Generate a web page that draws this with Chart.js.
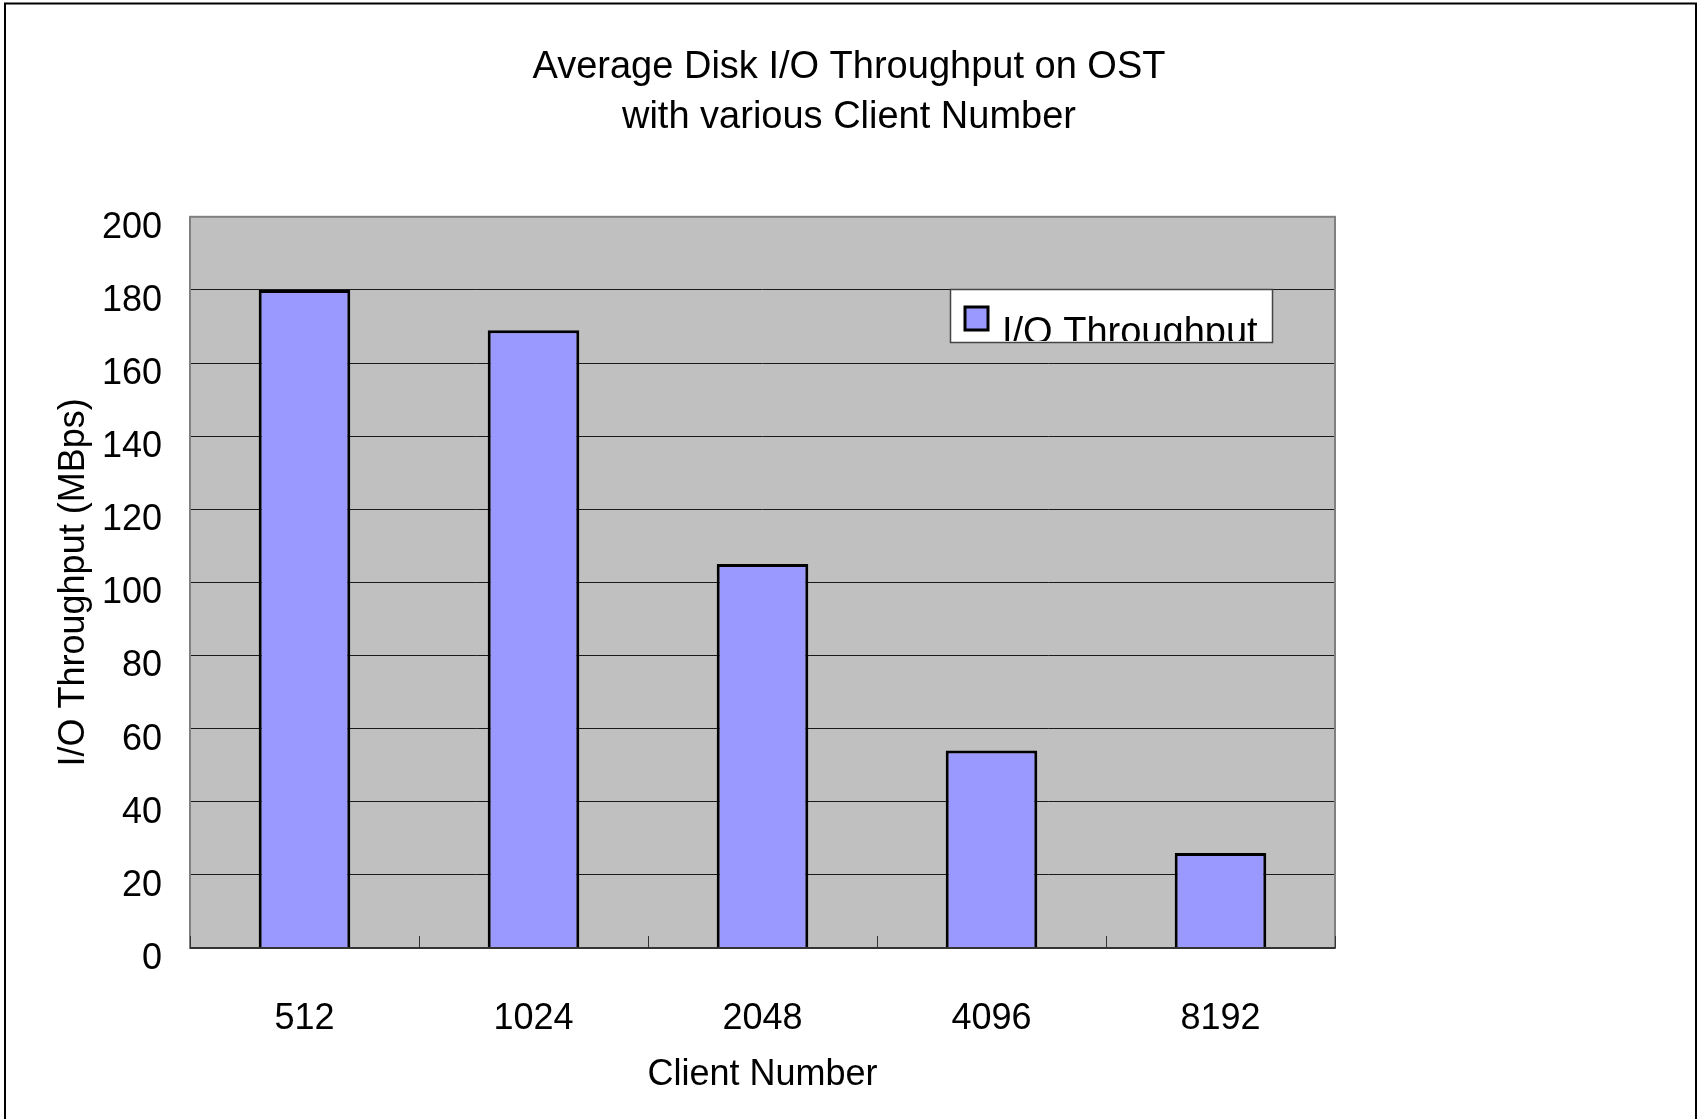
<!DOCTYPE html>
<html>
<head>
<meta charset="utf-8">
<script src="https://cdn.jsdelivr.net/npm/chart.js@4.4.0/dist/chart.umd.min.js"></script>
<style>
  html, body { margin: 0; padding: 0; background: #fff; }
</style>
</head>
<body>
<canvas id="chart_io" width="1698" height="1119"></canvas>
<script>
let clientNumbers = ['512', '1024', '2048', '4096', '8192']
let throughput = [180, 169, 105, 54, 26]
let yRange = [0, 200]
let yStep = 20

let fontFamily = '"Liberation Sans", Arial, sans-serif'

// white page, outer frame and the grey plot area
let plotBackground = {
    id: 'plotBackground',
    beforeDraw(chart) {
        let ctx = chart.ctx
        let { left, top, width, height } = chart.chartArea
        ctx.save()
        ctx.fillStyle = '#ffffff'
        ctx.fillRect(0, 0, chart.width, chart.height)
        ctx.strokeStyle = '#000'
        ctx.lineWidth = 2
        ctx.strokeRect(5, 3.5, chart.width - 7, chart.height + 20)
        ctx.fillStyle = '#c0c0c0'
        ctx.fillRect(left, top, width, height)
        ctx.restore()
    }
}

// plot border plus the small inward ticks between categories
let plotFrame = {
    id: 'plotFrame',
    afterDatasetsDraw(chart) {
        let ctx = chart.ctx
        let { left, top, right, bottom } = chart.chartArea
        let xScale = chart.scales.x
        ctx.save()
        ctx.strokeStyle = '#808080'
        ctx.lineWidth = 2
        ctx.strokeRect(left, top, right - left, bottom - top)
        ctx.strokeStyle = '#333'
        ctx.beginPath()
        ctx.moveTo(left, bottom)
        ctx.lineTo(right, bottom)
        ctx.stroke()
        ctx.lineWidth = 1
        for (let i = 0; i <= clientNumbers.length; i++) {
            let px = Math.round(xScale.getPixelForValue(i - 0.5)) + 0.5
            ctx.beginPath()
            ctx.moveTo(px, bottom)
            ctx.lineTo(px, bottom - 12)
            ctx.stroke()
        }
        ctx.restore()
    }
}

// legend box sitting inside the plot
let insideLegend = {
    id: 'insideLegend',
    afterDraw(chart) {
        let ctx = chart.ctx
        let ds = chart.data.datasets[0]
        let bx = 950, by = 289, bw = 322, bh = 53
        ctx.save()
        ctx.fillStyle = '#fff'
        ctx.fillRect(bx, by, bw, bh)
        ctx.strokeStyle = '#444'
        ctx.lineWidth = 1.5
        ctx.strokeRect(bx + 0.5, by + 0.5, bw, bh)
        ctx.fillStyle = ds.backgroundColor
        ctx.fillRect(965, 307, 23, 23)
        ctx.strokeStyle = '#000'
        ctx.lineWidth = 3
        ctx.strokeRect(965, 307, 23, 23)
        ctx.beginPath()
        ctx.rect(bx + 1, by + 1, bw - 2, bh - 2)
        ctx.clip()
        ctx.fillStyle = '#000'
        ctx.font = '38px ' + fontFamily
        ctx.textBaseline = 'alphabetic'
        ctx.fillText(ds.label, 1002, 344)
        ctx.restore()
    }
}

function createBarChart() {
    let ctx = document.getElementById('chart_io').getContext('2d')

    let myChart = new Chart(ctx, {
        type: 'bar',
        data: {
            labels: clientNumbers,
            datasets: [{
                label: 'I/O Throughput',
                data: throughput,
                backgroundColor: '#9999ff',
                borderColor: '#000000',
                borderWidth: 3,
                barPercentage: 0.4,
                categoryPercentage: 1
            }]
        },
        options: {
            responsive: false,
            animation: false,
            devicePixelRatio: 1,
            layout: { padding: 0 },
            plugins: {
                legend: { display: false },
                tooltip: { enabled: false },
                title: {
                    display: true,
                    text: ['Average Disk I/O Throughput on OST', 'with various Client Number'],
                    color: '#000',
                    font: { family: fontFamily, size: 38, weight: 'normal', lineHeight: 1.3 },
                    padding: { top: 43, bottom: 75 }
                }
            },
            scales: {
                x: {
                    grid: { display: false },
                    border: { display: false },
                    ticks: {
                        color: '#000',
                        font: { family: fontFamily, size: 36 },
                        padding: 41
                    },
                    title: {
                        display: true,
                        text: 'Client Number',
                        color: '#000',
                        font: { family: fontFamily, size: 36 },
                        padding: { top: 0, bottom: 22 }
                    },
                    afterFit(scale) { scale.height = 171 }
                },
                y: {
                    min: yRange[0],
                    max: yRange[1],
                    ticks: {
                        stepSize: yStep,
                        color: '#000',
                        font: { family: fontFamily, size: 36 },
                        padding: 28,
                        labelOffset: 11
                    },
                    grid: { color: '#1a1a1a', lineWidth: 1, drawTicks: false },
                    border: { display: false },
                    title: {
                        display: true,
                        text: 'I/O Throughput (MBps)',
                        color: '#000',
                        font: { family: fontFamily, size: 36 },
                        padding: { top: 52, bottom: 0 }
                    },
                    afterFit(scale) { scale.width = 190 }
                },
                // empty axis that keeps the white margin on the right
                yRight: {
                    position: 'right',
                    display: true,
                    ticks: { display: false },
                    grid: { display: false },
                    border: { display: false },
                    afterFit(scale) { scale.width = 363 }
                }
            }
        },
        plugins: [plotBackground, plotFrame, insideLegend]
    })
}

createBarChart()
</script>
</body>
</html>
